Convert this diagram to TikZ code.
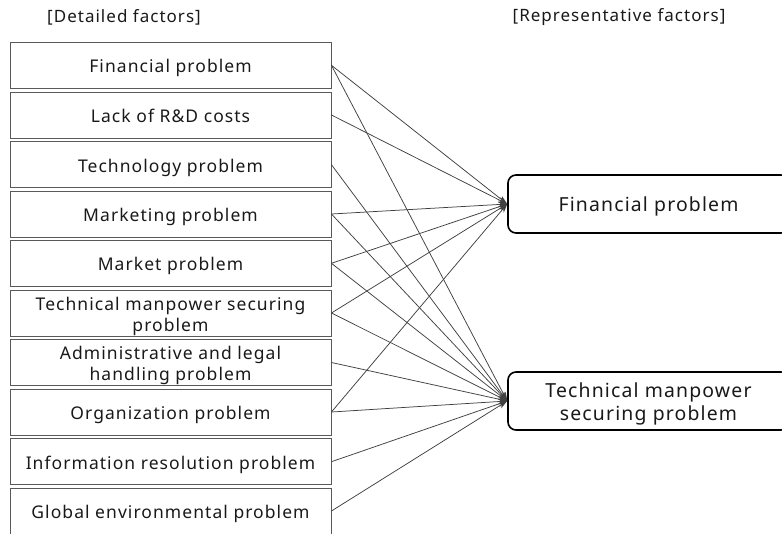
\documentclass[tikz,border=0pt]{standalone}
\usepackage{fontspec}
\setmainfont[LetterSpace=6]{Noto Sans}
\usetikzlibrary{arrows.meta}
\begin{document}
\begin{tikzpicture}[x=1pt,y=-1pt,
  detail/.style={draw=black!65, line width=0.9pt, minimum width=321pt, minimum height=46pt,
    inner sep=0pt, align=center, text height=16pt, text depth=1.2pt,
    font=\fontsize{17.5}{20.7}\selectfont, text=black!90},
  detailtwo/.style={detail, text height=37.2pt},
  repr/.style={draw=black, line width=1.6pt, rounded corners=8pt, minimum width=281pt,
    minimum height=58pt, inner sep=0pt, align=center, text height=17pt, text depth=1.5pt,
    font=\fontsize{19.4}{23}\selectfont, text=black!90},
  reprtwo/.style={repr, text height=39.5pt},
  heading/.style={font=\fontsize{17}{20}\selectfont, text=black!90, inner sep=0pt},
  conn/.style={draw=black!75, line width=0.75pt, -{Stealth[length=9pt,width=6pt]}}]
\useasboundingbox (0,0) rectangle (782,533);

% column headings
\node[heading] (h1) at (124,17.5) {[Detailed factors]};
\node[heading] (h2) at (619,17.5) {[Representative factors]};

% detailed factors
\node[detail]    (d1)  at (170.5,65.3)  {Financial problem};
\node[detail]    (d2)  at (170.5,115)   {Lack of R\&D costs};
\node[detail]    (d3)  at (170.5,164.7) {Technology problem};
\node[detail]    (d4)  at (170.5,214)   {Marketing problem};
\node[detail]    (d5)  at (170.5,263.3) {Market problem};
\node[detailtwo] (d6)  at (170.5,313)   {Technical manpower securing\\problem};
\node[detailtwo] (d7)  at (170.5,362.5) {Administrative and legal\\handling problem};
\node[detail]    (d8)  at (170.5,412)   {Organization problem};
\node[detail]    (d9)  at (170.5,461.7) {Information resolution problem};
\node[detail]    (d10) at (170.5,511)   {Global environmental problem};

% representative factors
\node[repr]    (r1) at (648.5,204) {Financial problem};
\node[reprtwo] (r2) at (648.5,401) {Technical manpower\\securing problem};

% links to the financial problem
\foreach \d in {d1,d2,d4,d5,d6,d8}
  \draw[conn] (\d.east) -- (r1.west);
% links to the technical manpower problem
\foreach \d in {d1,d3,d4,d5,d6,d7,d8,d9,d10}
  \draw[conn] (\d.east) -- (r2.west);
\end{tikzpicture}
\end{document}
